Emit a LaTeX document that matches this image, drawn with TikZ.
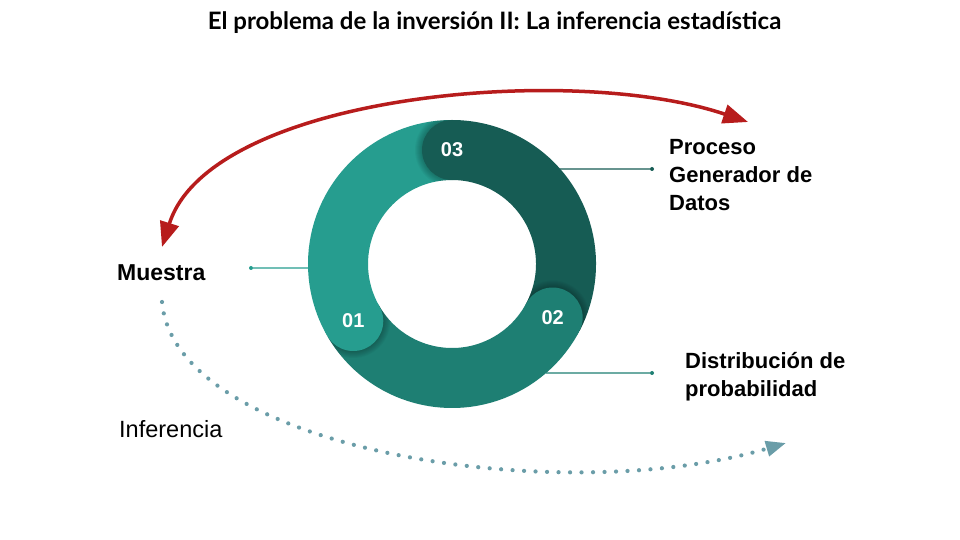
\documentclass[tikz,border=0pt]{standalone}
\usepackage{fontspec}
\setmainfont{Liberation Sans}
\newfontfamily\titlefont{Lato}
\usetikzlibrary{arrows.meta,calc}
\definecolor{tealA}{HTML}{269D8F}
\definecolor{tealB}{HTML}{1E7F73}
\definecolor{tealC}{HTML}{165C54}
\definecolor{redarc}{HTML}{B71C1C}
\definecolor{dotcol}{HTML}{6A9DA8}
\tikzset{
  seg/.style={line width=60pt},
  numlbl/.style={text=white, font=\bfseries\fontsize{20}{24}\selectfont, inner sep=0pt},
  lbl/.style={font=\bfseries\fontsize{22}{28}\selectfont, inner sep=0pt, align=left},
  lblreg/.style={font=\fontsize{23.5}{28}\selectfont, inner sep=0pt},
  conn/.style={line width=1.2pt},
  enddot/.style={circle, fill, inner sep=0pt, minimum size=4pt},
  redarr/.style={redarc, line width=3.5pt, {Triangle[length=25pt,width=19pt]}-{Triangle[length=25pt,width=19pt]}},
  dotarr/.style={dotcol, line width=4.2pt, line cap=round, dash pattern=on 0pt off 11.5pt, -{Triangle[length=20pt,width=15pt]}},
}
\begin{document}
\begin{tikzpicture}[x=1pt,y=1pt]
\useasboundingbox (0,0) rectangle (960,540);
\fill[white] (0,0) rectangle (960,540);
\node[font=\titlefont\bfseries\fontsize{24}{28}\selectfont, anchor=base, inner sep=0pt] (title) at (494.5,510) {El problema de la inversión II: La inferencia estadística};

\coordinate (C) at (452,276);
% ring segments
\draw[seg,tealA] ($(C)+(90:114)$) arc (90:210:114);
\draw[seg,tealC] ($(C)+(-28:114)$) arc (-28:90:114);
\draw[seg,tealB] ($(C)+(210:114)$) arc (210:332:114);
% soft shadows of the round caps
\foreach \a in {90,-28,210}{
  \begin{scope}
    \clip (C) -- ($(C)+(\a:220)$) arc (\a:\a+45:220) -- cycle;
    \begin{scope}[even odd rule]
      \clip (C) circle (144) (C) circle (84);
      \foreach \k in {1,...,7}{
        \fill[black, opacity=0.035] ($(C)+(\a:114)$) circle ({30+\k});
      }
    \end{scope}
  \end{scope}
}
% round caps
\fill[tealC] ($(C)+(90:114)$) circle (30);
\fill[tealB] ($(C)+(-28:114)$) circle (30);
\fill[tealA] ($(C)+(210:114)$) circle (30);
\node[numlbl] (n03) at ($(C)+(90:114)$) {03};
\node[numlbl] (n02) at ($(C)+(-28:114)$) {02};
\node[numlbl] (n01) at ($(C)+(210:114)$) {01};

% connectors
\coordinate (e1) at ($(C)+(181.6:144)$);
\coordinate (e2) at ($(C)+(41.3:144)$);
\coordinate (e3) at ($(C)+(-49.2:144)$);
\node[enddot, tealA] (d1) at (251,272) {};
\node[enddot, tealC] (d2) at (652,371) {};
\node[enddot, tealB] (d3) at (652,167) {};
\draw[conn, tealA] (e1) -- (d1);
\draw[conn, tealC] (e2) -- (d2);
\draw[conn, tealB] (e3) -- (d3);

% labels
\node[lbl, font=\bfseries\fontsize{23}{28}\selectfont, anchor=base west] (mu) at (117,259) {Muestra};
\node[lbl, anchor=north west] (pgd) at (669,401) {Proceso\\Generador de\\Datos};
\node[lbl, anchor=north west] (dp) at (685,188) {Distribución de\\probabilidad};
\node[lblreg, anchor=base west] (inf) at (119,102) {Inferencia};

% arrows
\coordinate (rl) at (162,293);
\coordinate (rr) at (748,418);
\draw[redarr] (rl) .. controls (210,445) and (570,478) .. (rr);
\coordinate (ds) at (162,238);
\coordinate (de) at (786,97);
\draw[dotarr] (ds) .. controls (175,90) and (560,30) .. (de);
\end{tikzpicture}
\end{document}
